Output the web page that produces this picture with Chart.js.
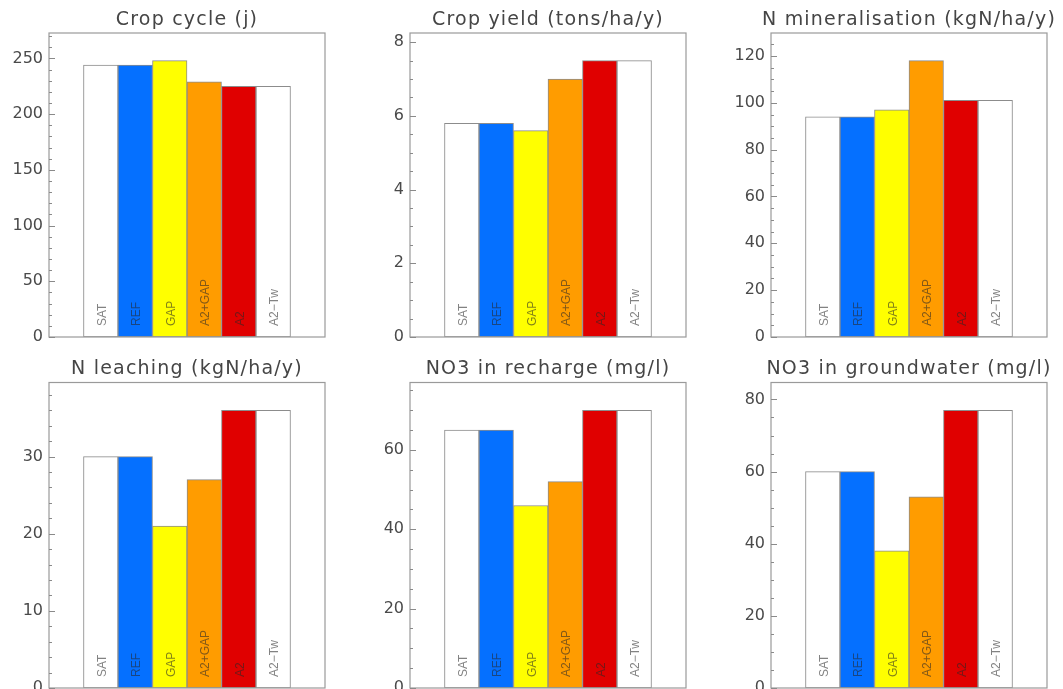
<!DOCTYPE html>
<html>
<head>
<meta charset="utf-8">
<script src="https://cdn.jsdelivr.net/npm/chart.js@4.4.1/dist/chart.umd.min.js"></script>
<style>
  html, body { margin: 0; padding: 0; background: #fff; overflow: hidden; }
  #wrap { position: relative; width: 1063px; height: 689px; overflow: hidden; }
  canvas { position: absolute; }
</style>
</head>
<body>
<div id="wrap"></div>
<script>
// ---------------- data ----------------
const categories = ['SAT', 'REF', 'GAP', 'A2+GAP', 'A2', 'A2\u2212Tw'];
const barColors = ['#ffffff', '#0570ff', '#ffff00', '#ff9c00', '#e00000', '#ffffff'];

const titles = [
  'Crop cycle (j)',
  'Crop yield (tons/ha/y)',
  'N mineralisation (kgN/ha/y)',
  'N leaching (kgN/ha/y)',
  'NO3 in recharge (mg/l)',
  'NO3 in groundwater (mg/l)'
];

const cropCycle   = [244, 244, 248, 229, 225, 225];
const cropYield   = [5.8, 5.8, 5.6, 7.0, 7.5, 7.5];
const nMineral    = [94, 94, 97, 118, 101, 101];
const nLeaching   = [30, 30, 21, 27, 36, 36];
const no3Recharge = [65, 65, 46, 52, 70, 70];
const no3Ground   = [60, 60, 38, 53, 77, 77];

const ticksCycle    = [0, 50, 100, 150, 200, 250];
const ticksYield    = [0, 2, 4, 6, 8];
const ticksMineral  = [0, 20, 40, 60, 80, 100, 120];
const ticksLeaching = [0, 10, 20, 30];
const ticksRecharge = [0, 20, 40, 60];
const ticksGround   = [0, 20, 40, 60, 80];

const minorSteps = [10, 0.5, 5, 2, 5, 5];

const panelData  = [cropCycle, cropYield, nMineral, nLeaching, no3Recharge, no3Ground];
const panelTicks = [ticksCycle, ticksYield, ticksMineral, ticksLeaching, ticksRecharge, ticksGround];

// ---------------- layout ----------------
const boxLefts = [49, 410, 771];
const boxW = 276;
const AXW = 49;
const rows = [
  { canvasTop: 0,   canvasH: 345, boxTop: 33,    boxBottom: 337 },
  { canvasTop: 345, canvasH: 344, boxTop: 382.5, boxBottom: 688 }
];

const framePlugin = {
  id: 'frameTitle',
  afterDatasetsDraw(chart, args, opts) {
    const ctx = chart.ctx;
    const a = chart.chartArea;
    const ys = chart.scales.y;
    ctx.save();
    // frame
    ctx.strokeStyle = '#9a9a9a';
    ctx.lineWidth = 1.2;
    ctx.strokeRect(a.left, a.top, a.right - a.left, a.bottom - a.top);
    // inward ticks
    ctx.strokeStyle = '#8a8a8a';
    ctx.lineWidth = 1;
    const maxV = ys.max;
    const step = opts.minor;
    for (let k = 0; k * step <= maxV + 1e-9; k++) {
      const v = k * step;
      const y = Math.round(ys.getPixelForValue(v)) + 0.5;
      const isMajor = opts.major.some(m => Math.abs(m - v) < 1e-9);
      const len = isMajor ? 6 : 3;
      ctx.beginPath();
      ctx.moveTo(a.left, y);
      ctx.lineTo(a.left + len, y);
      ctx.stroke();
    }
    // bar labels (rotated)
    const meta = chart.getDatasetMeta(0);
    ctx.font = '12px "Liberation Sans", Arial, sans-serif';
    ctx.fillStyle = 'rgba(40,40,40,0.58)';
    ctx.textAlign = 'left';
    ctx.textBaseline = 'middle';
    meta.data.forEach((el, i) => {
      const lbl = chart.data.labels[i];
      if (!lbl) return;
      ctx.save();
      ctx.translate(el.x + 1.5, a.bottom - 11);
      ctx.rotate(-Math.PI / 2);
      ctx.fillText(lbl, 0, 0);
      ctx.restore();
    });
    // title
    ctx.font = '19px "DejaVu Sans", sans-serif';
    ctx.fillStyle = '#454545';
    ctx.textAlign = 'center';
    ctx.textBaseline = 'alphabetic';
    try { ctx.letterSpacing = '1.2px'; } catch (e) {}
    ctx.fillText(opts.title, (a.left + a.right) / 2, a.top - 8.5);
    try { ctx.letterSpacing = '0px'; } catch (e) {}
    ctx.restore();
  }
};

const wrap = document.getElementById('wrap');

for (let p = 0; p < 6; p++) {
  const r = Math.floor(p / 3), c = p % 3;
  const row = rows[r];
  const canvasLeft = boxLefts[c] - AXW;
  const canvasW = Math.min(361, 1063 - canvasLeft);
  const cv = document.createElement('canvas');
  cv.width = canvasW;
  cv.height = row.canvasH;
  cv.style.left = canvasLeft + 'px';
  cv.style.top = row.canvasTop + 'px';
  cv.style.width = canvasW + 'px';
  cv.style.height = row.canvasH + 'px';
  wrap.appendChild(cv);

  const vals = panelData[p];
  const yMax = Math.max(...vals) * 1.1;
  const labels = [''].concat(categories).concat(['']);
  const data = [null].concat(vals).concat([null]);
  const bg = ['rgba(0,0,0,0)'].concat(barColors).concat(['rgba(0,0,0,0)']);
  const majors = panelTicks[p];

  new Chart(cv, {
    type: 'bar',
    data: {
      labels: labels,
      datasets: [{
        data: data,
        backgroundColor: bg,
        borderColor: '#8c8c8c',
        borderWidth: 1,
        borderSkipped: false,
        barPercentage: 1,
        categoryPercentage: 1
      }]
    },
    options: {
      responsive: false,
      animation: false,
      devicePixelRatio: 1,
      layout: {
        autoPadding: false,
        padding: {
          left: 0,
          top: row.boxTop - row.canvasTop,
          right: canvasW - AXW - boxW,
          bottom: row.canvasTop + row.canvasH - row.boxBottom
        }
      },
      plugins: {
        legend: { display: false },
        tooltip: { enabled: false },
        title: { display: false },
        frameTitle: { title: titles[p], major: majors, minor: minorSteps[p] }
      },
      scales: {
        x: {
          display: false,
          offset: true,
          grid: { display: false }
        },
        y: {
          min: 0,
          max: yMax,
          border: { display: false },
          grid: { display: false, drawTicks: false },
          afterBuildTicks(scale) {
            scale.ticks = majors.map(v => ({ value: v }));
          },
          afterFit(scale) {
            scale.width = AXW;
            scale.paddingTop = 0;
            scale.paddingBottom = 0;
            scale.paddingLeft = 0;
            scale.paddingRight = 0;
          },
          ticks: {
            padding: 6,
            color: '#4a4a4a',
            font: { family: 'DejaVu Sans', size: 16 },
            callback: v => String(v)
          }
        }
      }
    },
    plugins: [framePlugin]
  });
}
</script>
</body>
</html>
